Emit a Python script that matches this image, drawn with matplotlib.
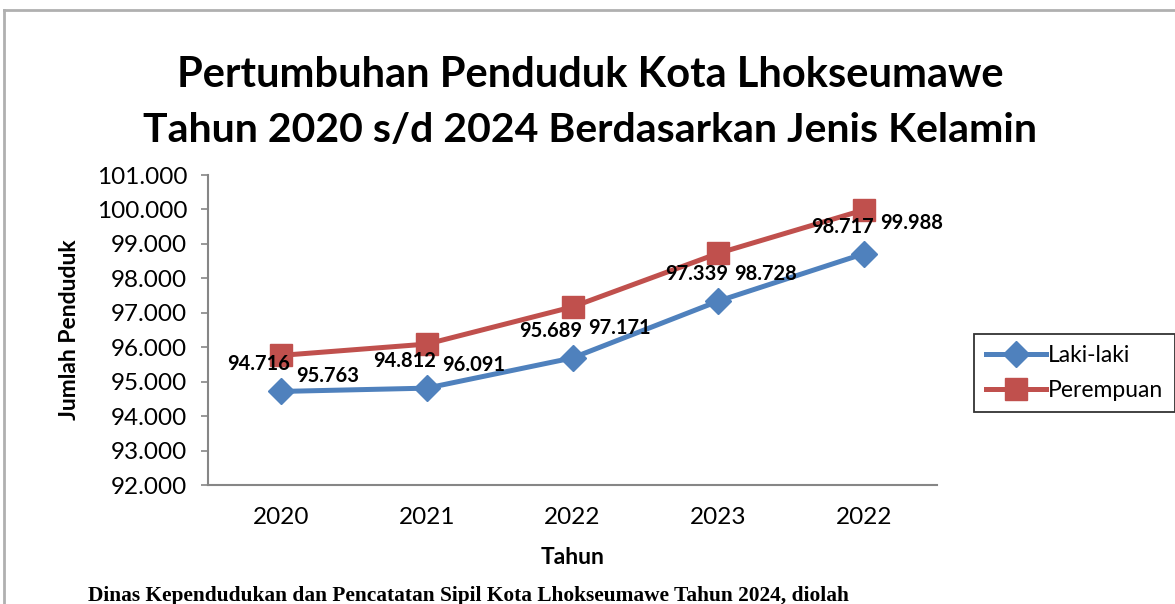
import numpy as np
import matplotlib
matplotlib.use('Agg')
import matplotlib.pyplot as plt
from matplotlib.lines import Line2D
from matplotlib.ticker import FuncFormatter

years = ['2020', '2021', '2022', '2023', '2022']
laki = [94716, 94812, 95689, 97339, 98717]
perempuan = [95763, 96091, 97171, 98728, 99988]
yticks = np.arange(92000, 101001, 1000)

blue = '#4F81BD'
red = '#C0504D'
axis_grey = '#868686'
font = 'Lato'


def dot_fmt(v, pos):
    return '{:,.0f}'.format(v).replace(',', '.')


def main():
    fig = plt.figure(figsize=(11.75, 6.04), dpi=100)
    W, H = 1175, 604

    # chart border (left and top visible)
    fig.add_artist(Line2D([4 / W, 4 / W], [0, 1 - 10 / H], color='#B0B0B0', linewidth=2))
    fig.add_artist(Line2D([4 / W, 1], [1 - 10 / H, 1 - 10 / H], color='#B0B0B0', linewidth=2))

    ax = fig.add_axes([208 / W, 1 - 485 / H, (937 - 208) / W, (485 - 175) / H])
    x = np.arange(len(years))

    ax.plot(x, laki, color=blue, linewidth=3.6, marker='D', markersize=13,
            label='Laki-laki')
    ax.plot(x, perempuan, color=red, linewidth=3.6, marker='s', markersize=16,
            label='Perempuan')

    for i in range(len(years)):
        ax.annotate(dot_fmt(laki[i], None), (x[i], laki[i]), xytext=(-22, 27),
                    textcoords='offset pixels', ha='center', va='center',
                    fontsize=14.5, fontweight='bold', family=font)
        dy = -13 if i == len(years) - 1 else -21
        ax.annotate(dot_fmt(perempuan[i], None), (x[i], perempuan[i]), xytext=(47, dy),
                    textcoords='offset pixels', ha='center', va='center',
                    fontsize=14.5, fontweight='bold', family=font)

    ax.set_xlim(-0.5, len(years) - 0.5)
    ax.set_ylim(92000, 101000)
    ax.set_yticks(yticks)
    ax.yaxis.set_major_formatter(FuncFormatter(dot_fmt))
    ax.set_xticks(x)
    ax.set_xticklabels(years)
    for lab in ax.get_xticklabels() + ax.get_yticklabels():
        lab.set_family(font)
        lab.set_fontsize(17.5)
    ax.tick_params(axis='x', length=0, pad=16)
    ax.tick_params(axis='y', length=5, width=1.2, color=axis_grey, pad=10)

    for s in ['top', 'right']:
        ax.spines[s].set_visible(False)
    for s in ['left', 'bottom']:
        ax.spines[s].set_color(axis_grey)
        ax.spines[s].set_linewidth(1.5)

    ax.set_xlabel('Tahun', fontsize=16.5, fontweight='bold', family=font)
    ax.set_ylabel('Jumlah Penduduk', fontsize=16.5, fontweight='bold', family=font)
    ax.xaxis.set_label_coords(0.5, -0.20)
    ax.yaxis.set_label_coords(-0.176, 0.5)

    fig.text(590 / W, 1 - 75 / H, 'Pertumbuhan Penduduk Kota Lhokseumawe',
             ha='center', va='center', fontsize=30, fontweight='bold', family=font)
    fig.text(590 / W, 1 - 130 / H, 'Tahun 2020 s/d 2024 Berdasarkan Jenis Kelamin',
             ha='center', va='center', fontsize=29.5, fontweight='bold', family=font)

    leg = ax.legend(loc='center left', bbox_to_anchor=(963 / W, 1 - 373 / H),
                    bbox_transform=fig.transFigure, frameon=True, fancybox=False,
                    prop={'family': font, 'size': 16.5}, handlelength=2.6,
                    handletextpad=0.1, borderpad=0.5, labelspacing=0.6)
    leg.get_frame().set_edgecolor('black')
    leg.get_frame().set_linewidth(1.3)

    fig.text(88 / W, (H - 601) / H,
             'Dinas Kependudukan dan Pencatatan Sipil Kota Lhokseumawe Tahun 2024, diolah',
             ha='left', va='baseline', fontsize=15.4, fontweight='bold',
             family='Liberation Serif')

    plt.savefig('out.png', dpi=100)


if __name__ == '__main__':
    main()
